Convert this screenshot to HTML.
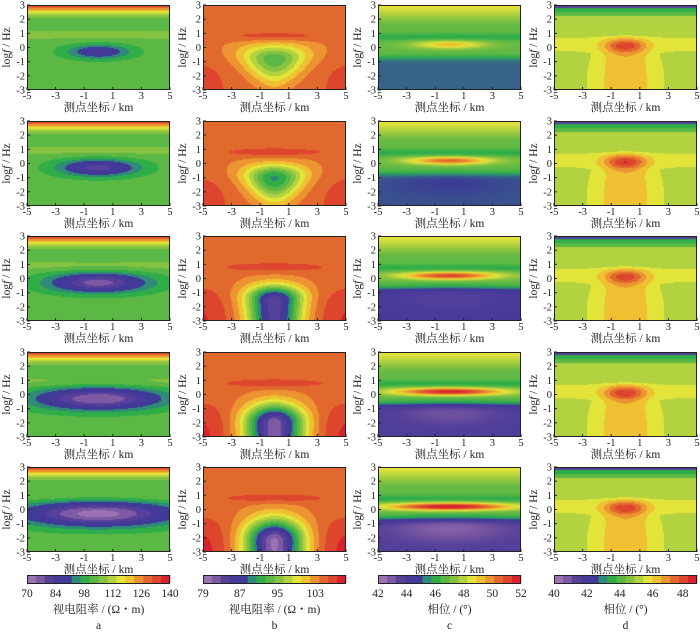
<!DOCTYPE html>
<html><head><meta charset="utf-8"><style>
body{margin:0;background:#fff;width:700px;height:632px;overflow:hidden;position:relative;font-family:"Liberation Serif","Noto Serif CJK SC",serif;}
canvas{position:absolute;}
svg{position:absolute;left:0;top:0;}
</style></head><body>
<div id="root"></div>
<svg id="ov" width="700" height="632"></svg>
<script>
// ---- data ----
const palette=["#9b73b3","#7d5aa3","#55409a","#45399a","#3d3b96","#2f8a78","#2fae48","#5cb845","#84c241","#b3d240","#e2e43a","#efc031","#ec9431","#e2692d","#dd452d","#d8212e"];
const xTicks=[-5,-3,-1,1,3,5];
const yTicks=[3,2,1,0,-1,-2,-3];
const aAmp=[4,5,6,6.5,7], aWx=[2.2,2.8,3.5,4.5,5.5], aWy=[0.5,0.6,0.7,0.8,0.9];
const bAmp=[6,7.5,11,12,12.5], bC=[-0.8,-1,-1.5,-2,-2.2], bWyUp=[1.0,0.9,1.0,1.3,1.5], bWyDown=[1.6,1.6,9,9,9], bWx=[2.2,2.0,1.9,2.0,2.0], bFlare=[0.22,0.18,0.05,0,0], bCorner=[0.8,0.9,1.3,1.4,1.5];
const cBottom=[4.5,4.3,3,2.5,2.2], cAmp=[4,6,7,8,8.5], cWx=[2.5,3,3.5,4,4.5], cDeep=[0,0.3,1,1.2,1.5];
const dCore=[3,3.3,3,3.2,3.2];
const cbLabels=[["70","84","98","112","126","140"],["79","87","95","103"],["42","44","46","48","50","52"],["40","42","44","46","48"]];
const cbFrac=[[0,0.2,0.4,0.6,0.8,1],[0,0.257,0.52,0.785],[0,0.2,0.4,0.6,0.8,1],[0,0.23,0.46,0.69,0.9]];
const cbTitles=["视电阻率 / (Ω・m)","视电阻率 / (Ω・m)","相位 / (°)","相位 / (°)"];
const letters=["a","b","c","d"];
// ---- layout ----
const colX=[27,203,378,554], W=143, H=85, rowY0=5, rowDy=115.6;
function S(t){return 1/(1+Math.exp(-t));}
function E(t){return Math.exp(-t);}
function fA(r,x,y){let v=7.5+0.8*E(((y-0.9)/0.4)**2);v+=Math.pow(Math.max(0,y-1.9),1.5)*6.8;v-=aAmp[r]*E((x/aWx[r])**2+((y+0.3)/aWy[r])**2);return v;}
function fB(r,x,y){let v=13.3+1.3*E(((y-0.8)/0.35)**2+(x/4)**2);const c=bC[r];let wx=bWx[r]*Math.max(0.4,1+bFlare[r]*(y-c));let gy=y>c?E(((y-c)/bWyUp[r])**2):E(((y-c)/bWyDown[r])**2);v-=bAmp[r]*E((x/wx)**2)*gy;v+=1.6*bCorner[r]*S((Math.abs(x)-3.4)/0.7)*S((-y-1)/0.6);return v;}
function fC(r,x,y){let v=cBottom[r]+(7.2-cBottom[r])*S((y+0.7)/0.12);v-=1.3*E(((y-0.75)/0.25)**2);v+=Math.max(0,y-1.6)*2.3;v+=cAmp[r]*E((x/cWx[r])**2+((y-0.2)/0.28)**2);v-=cDeep[r]*E((x/4)**2+((y+1.3)/1)**2);return v;}
function fD(r,x,y){if(y>2.78)return 2.5;if(y>2.5)return 6.5;if(y>2.2)return 7.5;let v=9;const u=S((0.8-y)/0.08);const yw=3.1+0.35*Math.cos((y+2)*1.3);const yel=Math.max(S((y+0.5)/0.15),E((x/yw)**4));v+=1.2*u*yel;const pw=1.6+Math.max(0,-y)*0.12;v+=1.6*E((x/pw)**2)*S((0.7-y)/0.15);v+=dCore[r]*E((x/1.5)**2+((y-0.1)/0.45)**2);return v;}
const funcs=[fA,fB,fC,fD];
function hex(h){return [parseInt(h.substr(1,2),16),parseInt(h.substr(3,2),16),parseInt(h.substr(5,2),16)];}
const pal=palette.map(hex);
function colorOf(v,cont){v=Math.max(0,Math.min(15.99,v));if(!cont)return pal[Math.floor(v)];const i=Math.min(14,Math.floor(v)),t=Math.min(1,v-i);const a=pal[i],b=pal[i+1];return [a[0]+(b[0]-a[0])*t,a[1]+(b[1]-a[1])*t,a[2]+(b[2]-a[2])*t];}
const root=document.getElementById('root');
const ov=document.getElementById('ov');
const NS="http://www.w3.org/2000/svg";
function sv(tag,attrs,txt){const e=document.createElementNS(NS,tag);for(const k in attrs)e.setAttribute(k,attrs[k]);if(txt!==undefined)e.textContent=txt;ov.appendChild(e);return e;}
for(let c=0;c<4;c++){for(let r=0;r<5;r++){
  const px=colX[c],py=Math.round(rowY0+rowDy*r);
  const cv=document.createElement('canvas');cv.width=W;cv.height=H;cv.style.left=px+'px';cv.style.top=py+'px';
  
  
  root.appendChild(cv);
  const ctx=cv.getContext('2d');const img=ctx.createImageData(W,H);
  for(let j=0;j<H;j++)for(let i=0;i<W;i++){const x=-5+10*(i+0.5)/W,y=3-6*(j+0.5)/H;const col=colorOf(funcs[c](r,x,y),c===2);const k=(j*W+i)*4;img.data[k]=col[0];img.data[k+1]=col[1];img.data[k+2]=col[2];img.data[k+3]=255;}
  ctx.putImageData(img,0,0);
  const fr=sv('rect',{x:px+0.5,y:py+0.5,width:W-1,height:H-1,fill:'none',stroke:'#222','stroke-width':1});
  
  
  xTicks.forEach(t=>{const xx=px+(t+5)/10*W;sv('line',{x1:xx,y1:py+H,x2:xx,y2:py+H-3,stroke:'#222'});const tl=sv('text',{x:xx,y:py+H+9,'font-size':10.5,'text-anchor':'middle',fill:'#222'},String(t));});
  yTicks.forEach(t=>{const yy=py+(3-t)/6*H;sv('line',{x1:px,y1:yy,x2:px+3,y2:yy,stroke:'#222'});const tl=sv('text',{x:px-2,y:yy+3.5,'font-size':10.5,'text-anchor':'end',fill:'#222'},String(t));});
  const xt=sv('text',{x:px+W/2,y:py+H+21,'font-size':11.5,'text-anchor':'middle',fill:'#222'},'测点坐标 / km');
  
  const yt=sv('text',{transform:`translate(${px-17},${py+H/2}) rotate(-90)`,'font-size':11.5,'text-anchor':'middle',fill:'#222'});
  
  yt.innerHTML='log<tspan font-style="italic">f</tspan> / Hz';
}
  // colorbar
  const cx=colX[c],cy=575,ch=8,seg=W/16;
  palette.forEach((p,i)=>{const s=sv('rect',{x:cx+i*seg,y:cy,width:seg+0.3,height:ch,fill:p});});
  sv('rect',{x:cx+0.5,y:cy+0.5,width:W-1,height:ch,fill:'none',stroke:'#222'});
  cbLabels[c].forEach((l,i)=>{const t=sv('text',{x:cx+cbFrac[c][i]*W,y:597,'font-size':11.5,'text-anchor':'middle',fill:'#222'},l);});
  const ct=sv('text',{x:cx+W/2,y:613,'font-size':11.5,'text-anchor':'middle',fill:'#222'},cbTitles[c]);
  
  const lt=sv('text',{x:cx+W/2,y:629,'font-size':11.5,'text-anchor':'middle',fill:'#222'},letters[c]);
  
}
</script>
</body></html>
